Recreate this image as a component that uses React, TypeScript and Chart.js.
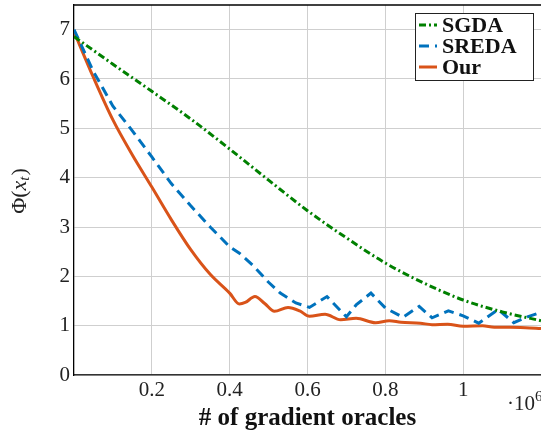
import React, { useEffect, useRef } from "react";
import { Chart, registerables } from "chart.js";

Chart.register(...registerables);

const sgdaX = [0, 0.1, 0.2, 0.3, 0.4, 0.5, 0.6, 0.7, 0.8, 0.9, 1.0, 1.1, 1.2];
const sgdaY = [6.86, 6.3, 5.75, 5.19, 4.58, 3.95, 3.33, 2.78, 2.27, 1.86, 1.52, 1.28, 1.1];

const sredaX = [0, 0.05, 0.1, 0.15, 0.2, 0.25, 0.3, 0.35, 0.4, 0.425, 0.46, 0.5, 0.53, 0.57, 0.605, 0.65, 0.7, 0.725, 0.763, 0.8, 0.845, 0.887, 0.92, 0.962, 1.0, 1.04, 1.09, 1.13, 1.165, 1.2];
const sredaY = [7.0, 6.15, 5.45, 4.95, 4.42, 3.88, 3.43, 3.0, 2.6, 2.47, 2.22, 1.88, 1.66, 1.46, 1.37, 1.59, 1.18, 1.42, 1.66, 1.36, 1.17, 1.39, 1.16, 1.3, 1.2, 1.05, 1.33, 1.06, 1.18, 1.27];

const ourX = [0, 0.05, 0.1, 0.15, 0.2, 0.25, 0.3, 0.35, 0.4, 0.425, 0.44, 0.465, 0.49, 0.515, 0.55, 0.58, 0.605, 0.645, 0.685, 0.725, 0.775, 0.81, 0.84, 0.89, 0.92, 0.96, 1.0, 1.05, 1.08, 1.12, 1.16, 1.2];
const ourY = [6.96, 6.03, 5.17, 4.46, 3.81, 3.15, 2.54, 2.04, 1.66, 1.44, 1.47, 1.59, 1.45, 1.29, 1.37, 1.3, 1.19, 1.23, 1.12, 1.15, 1.06, 1.1, 1.07, 1.05, 1.02, 1.03, 0.99, 1.0, 0.97, 0.97, 0.96, 0.94];

const xTicks = [0.2, 0.4, 0.6, 0.8, 1.0];
const yTicks = [0, 1, 2, 3, 4, 5, 6, 7];
const seriesNames = ["SGDA", "SREDA", "Our"];
const xTitle = "# of gradient oracles";

const GREEN = "#008000";
const BLUE = "#0072BD";
const ORANGE = "#D95319";
const FONT = "'Liberation Serif', serif";

const zip = (xs: number[], ys: number[]) => xs.map((x, i) => ({ x, y: ys[i] }));

export default function App() {
  const ref = useRef<HTMLCanvasElement | null>(null);

  useEffect(() => {
    document.body.style.margin = "0";
    if (!ref.current) return;

    const overlay = {
      id: "overlay",
      afterDraw(chart: any) {
        const { ctx, chartArea } = chart;
        ctx.save();
        ctx.strokeStyle = "#000";
        ctx.lineWidth = 1.3;
        ctx.beginPath();
        ctx.moveTo(chartArea.left, chartArea.top);
        ctx.lineTo(chartArea.right, chartArea.top);
        ctx.stroke();

        // y axis title
        ctx.save();
        ctx.translate(20, 191);
        ctx.rotate(-Math.PI / 2);
        ctx.fillStyle = "#222";
        ctx.textBaseline = "middle";
        const normal = `22px ${FONT}`;
        const ital = `italic 22px ${FONT}`;
        const sub = `italic 15px ${FONT}`;
        const parts: [string, string, number][] = [
          ["Φ(", normal, 0],
          ["x", ital, 0],
          ["t", sub, 5],
          [")", normal, 0],
        ];
        let total = 0;
        for (const [t, f] of parts) {
          ctx.font = f;
          total += ctx.measureText(t).width + (t === "t" ? 1 : 0);
        }
        let cx = -total / 2;
        for (const [t, f, dy] of parts) {
          ctx.font = f;
          ctx.textAlign = "left";
          ctx.fillText(t, cx, dy);
          cx += ctx.measureText(t).width + (t === "t" ? 1 : 0);
        }
        ctx.restore();

        // ·10^6
        ctx.fillStyle = "#222";
        ctx.textAlign = "left";
        ctx.textBaseline = "alphabetic";
        ctx.font = `21px ${FONT}`;
        ctx.fillText("·10", 507, 410);
        const w = ctx.measureText("·10").width;
        ctx.font = `15px ${FONT}`;
        ctx.fillText("6", 507 + w, 401);

        // legend
        const bx = 415, by = 13, bw = 118, bh = 67;
        ctx.fillStyle = "#fff";
        ctx.fillRect(bx, by, bw, bh);
        ctx.strokeStyle = "#222";
        ctx.lineWidth = 1;
        ctx.strokeRect(bx + 0.5, by + 0.5, bw, bh);
        const colors = [GREEN, BLUE, ORANGE];
        const dashes = [[7, 3, 2, 3], [10, 6], []];
        const rows = [25, 46, 67];
        for (let i = 0; i < 3; i++) {
          ctx.strokeStyle = colors[i];
          ctx.lineWidth = 3;
          ctx.setLineDash(dashes[i]);
          ctx.beginPath();
          ctx.moveTo(419, rows[i]);
          ctx.lineTo(437, rows[i]);
          ctx.stroke();
          ctx.setLineDash([]);
          ctx.fillStyle = "#111";
          ctx.font = `bold 22px ${FONT}`;
          ctx.textBaseline = "middle";
          ctx.fillText(seriesNames[i], 442, rows[i] + 1);
        }
        ctx.restore();
      },
    };

    const chart = new Chart(ref.current, {
      type: "line",
      data: {
        datasets: [
          {
            label: seriesNames[0],
            data: zip(sgdaX, sgdaY),
            borderColor: GREEN,
            borderWidth: 3,
            borderDash: [7, 3, 2, 3],
            pointRadius: 0,
            cubicInterpolationMode: "monotone",
            fill: false,
          },
          {
            label: seriesNames[1],
            data: zip(sredaX, sredaY),
            borderColor: BLUE,
            borderWidth: 3,
            borderDash: [10, 6],
            pointRadius: 0,
            tension: 0,
            fill: false,
          },
          {
            label: seriesNames[2],
            data: zip(ourX, ourY),
            borderColor: ORANGE,
            borderWidth: 3,
            pointRadius: 0,
            cubicInterpolationMode: "monotone",
            fill: false,
          },
        ],
      },
      options: {
        animation: false,
        responsive: false,
        devicePixelRatio: 1,
        layout: { padding: { top: 5, left: 0, right: 0, bottom: 0 } },
        plugins: { legend: { display: false }, tooltip: { enabled: false } },
        scales: {
          x: {
            type: "linear",
            min: 0,
            max: 1.2,
            afterBuildTicks: (s: any) => {
              s.ticks = xTicks.map((v) => ({ value: v }));
            },
            afterFit: (s: any) => {
              s.height = 59;
              s.paddingLeft = 0;
              s.paddingRight = 0;
            },
            grid: { color: "#cfcfcf", lineWidth: 1, drawTicks: false },
            border: { color: "#333", width: 1.5 },
            ticks: {
              color: "#222",
              font: { family: FONT, size: 21 },
              padding: 3,
              maxRotation: 0,
              autoSkip: false,
              callback: (v: any) => String(Number(v)),
            },
            title: {
              display: true,
              text: xTitle,
              color: "#111",
              font: { family: FONT, size: 25, weight: "bold" },
              padding: { top: 0, bottom: 0 },
            },
          },
          y: {
            type: "linear",
            min: 0,
            max: 7.5,
            afterBuildTicks: (s: any) => {
              s.ticks = yTicks.map((v) => ({ value: v }));
            },
            afterFit: (s: any) => {
              s.width = 74;
              s.paddingTop = 0;
              s.paddingBottom = 0;
            },
            grid: { color: "#cfcfcf", lineWidth: 1, drawTicks: false },
            border: { color: "#000", width: 1.3 },
            ticks: {
              color: "#222",
              font: { family: FONT, size: 21 },
              padding: 4,
              autoSkip: false,
              callback: (v: any) => String(v),
            },
          },
        },
      },
      plugins: [overlay],
    } as any);

    return () => chart.destroy();
  }, []);

  return (
    <div style={{ width: 541, height: 434 }}>
      <canvas ref={ref} width={541} height={434} style={{ display: "block" }} />
    </div>
  );
}
